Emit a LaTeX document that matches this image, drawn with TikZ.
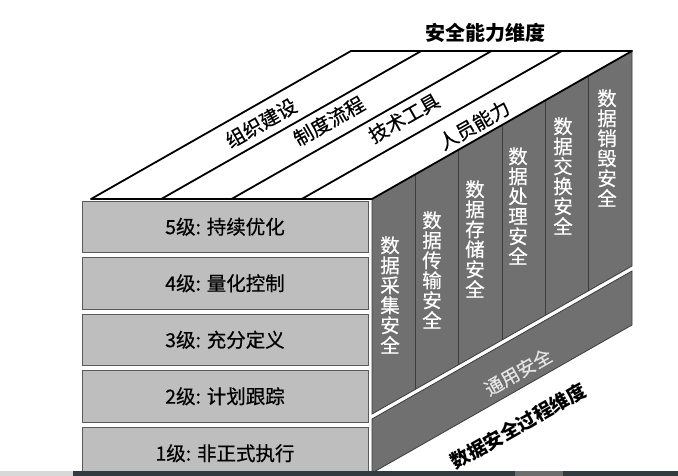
\documentclass[tikz,border=0pt]{standalone}
\usepackage{fontspec}
\setmainfont{Noto Sans CJK SC}
\newfontfamily\cjkreg{Noto Sans CJK SC}[FakeBold=0.5]
\definecolor{frontgray}{HTML}{BEBEBE}
\definecolor{frontedge}{HTML}{5A5A5A}
\definecolor{sidegray}{HTML}{707070}
\definecolor{sideedge}{HTML}{3C3C3C}
\definecolor{bandtext}{HTML}{E4E4E4}
\definecolor{stripdark}{HTML}{313C41}
\definecolor{stripmid}{HTML}{6E6E6E}
\definecolor{striplight}{HTML}{D8D8D8}
\tikzset{
  levelbox/.style={draw=frontedge, line width=0.9pt, fill=frontgray, minimum width=286pt,
    minimum height=51.5pt, inner sep=0pt, font=\cjkreg\fontsize{19.5pt}{20pt}\selectfont},
  toplabel/.style={rotate=29.65, inner sep=0pt, font=\cjkreg\fontsize{19.5pt}{20pt}\selectfont},
  collabel/.style={align=center, inner sep=0pt, text=white, font=\cjkreg\fontsize{19.5pt}{20pt}\selectfont},
  heavy/.style={line width=1.8pt, black, line cap=round, line join=round},
  sideface/.style={fill=sidegray, draw=sideedge, line width=0.8pt},
  sep/.style={draw=sideedge, line width=0.8pt}
}
\begin{document}
\begin{tikzpicture}[x=1pt,y=-1pt]
\useasboundingbox (0,0) rectangle (678,476);
\clip (0,0) rectangle (678,476);
\fill[white] (0,0) rectangle (678,476);

% front level boxes
\node[levelbox] (l5) at (225,226.75) {5级: 持续优化};
\node[levelbox] (l4) at (225,283.25) {4级: 量化控制};
\node[levelbox] (l3) at (225,339.75) {3级: 充分定义};
\node[levelbox] (l2) at (225,396.25) {2级: 计划跟踪};
\node[levelbox] (l1) at (225,453.25) {1级: 非正式执行};

% side face: process columns
\path[sideface] (372,199) -- (632,51) -- (632,266) -- (372,414) -- cycle;
\draw[sep] (415.33,174.33) -- (415.33,389.33);
\draw[sep] (458.67,149.67) -- (458.67,364.67);
\draw[sep] (502,125) -- (502,340);
\draw[sep] (545.33,100.33) -- (545.33,315.33);
\draw[sep] (588.67,75.67) -- (588.67,290.67);

% general band
\path[sideface] (372,419) -- (632,271) -- (632,325) -- (372,473) -- cycle;

% top face
\fill[white] (91,199) -- (372,199) -- (632,51) -- (351,51) -- cycle;
\draw[heavy] (91,199) -- (372,199) -- (632,51) -- (351,51) -- cycle;
\draw[heavy] (161.25,199) -- (421.25,51);
\draw[heavy] (231.5,199) -- (491.5,51);
\draw[heavy] (301.75,199) -- (561.75,51);

% top face labels
\node[toplabel] (t1) at (261,123) {组织建设};
\node[toplabel] (t2) at (329,121) {制度流程};
\node[toplabel] (t3) at (404,118) {技术工具};
\node[toplabel] (t4) at (474,125) {人员能力};

% column labels
\node[collabel] (c1) at (390,295) {数\\据\\采\\集\\安\\全};
\node[collabel] (c2) at (432,270) {数\\据\\传\\输\\安\\全};
\node[collabel] (c3) at (475,239) {数\\据\\存\\储\\安\\全};
\node[collabel] (c4) at (518,206) {数\\据\\处\\理\\安\\全};
\node[collabel] (c5) at (563,176) {数\\据\\交\\换\\安\\全};
\node[collabel] (c6) at (607,148) {数\\据\\销\\毁\\安\\全};

\node[rotate=29.65, inner sep=0pt, text=bandtext, font=\cjkreg\fontsize{18.5pt}{20pt}\selectfont] (gen) at (518,372) {通用安全};

% axis titles
\node[inner sep=0pt, font=\fontsize{20pt}{22pt}\selectfont\bfseries] (cap) at (485,33) {安全能力维度};
\node[rotate=29.65, inner sep=0pt, font=\fontsize{19pt}{20pt}\selectfont\bfseries] (proc) at (518,426) {数据安全过程维度};

% bottom strip
\fill[striplight] (0,471) rectangle (73,476);
\fill[stripdark] (73,471) rectangle (678,476);
\fill[stripmid] (515,471) rectangle (563,476);
\end{tikzpicture}
\end{document}
